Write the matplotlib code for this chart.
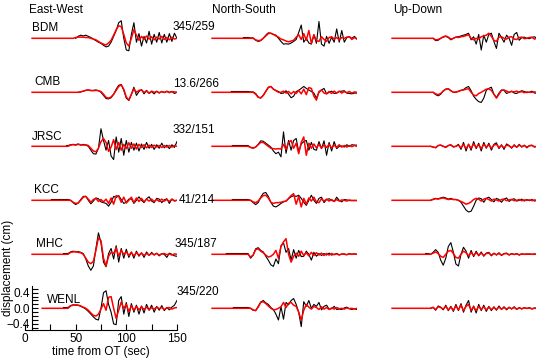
import numpy as np
import matplotlib
matplotlib.use("Agg")
import matplotlib.pyplot as plt
from matplotlib.ticker import MultipleLocator

plt.rcParams['font.family'] = ['Liberation Sans', 'DejaVu Sans']

# ---------------- data ----------------
stations = ["BDM", "CMB", "JRSC", "KCC", "MHC", "WENL"]
components = ["East-West", "North-South", "Up-Down"]
comp_keys = ["EW", "NS", "UD"]
dist_az = ["345/259", "13.6/266", "332/151", "41/214", "345/187", "345/220"]

t_grid = np.arange(45.0, 150.01, 2.5)

# time at which each drawn trace begins (flat before the signal)
syn_start = {"EW": [7, 7, 7, 7, 7, 17], "NS": [7] * 6, "UD": [7] * 6}
obs_start = {"EW": [49, 51, 41, 26, 38, 38],
             "NS": [38, 26, 27, 27, 21, 28],
             "UD": [47, 47, 45, 45, 40, 45]}

# displacement (cm), black = observed, red = synthetic
BDM_EW_syn = [0.00, 0.00, 0.02, 0.03, 0.03, 0.03, 0.02, 0.02, 0.00, -0.02,
              -0.04, -0.08, -0.12, -0.15, -0.17, -0.12, -0.05, 0.08, 0.22, 0.32,
              0.30, 0.10, -0.12, -0.20, 0.00, 0.22, 0.08, -0.05, 0.05, -0.03,
              0.06, -0.02, 0.04, -0.04, 0.03, -0.02, 0.05, -0.03, 0.02, -0.04,
              0.03, -0.02, 0.00]
BDM_EW_obs = [0.00, 0.00, 0.00, 0.05, 0.08, 0.06, 0.08, 0.05, 0.02, -0.02,
              -0.06, -0.10, -0.13, -0.18, -0.22, -0.20, -0.10, 0.05, 0.20, 0.40,
              0.45, 0.00, -0.30, -0.32, 0.10, 0.40, -0.10, 0.12, -0.20, 0.05,
              -0.12, 0.18, -0.15, 0.10, -0.10, 0.15, -0.12, 0.10, -0.10, 0.12,
              -0.08, 0.13, 0.00]
CMB_EW_syn = [0.00, 0.00, 0.00, 0.00, 0.01, 0.03, 0.05, 0.06, 0.05, 0.04,
              0.05, 0.04, 0.02, -0.05, -0.13, -0.15, -0.12, -0.05, 0.05, 0.15,
              0.19, 0.08, -0.12, -0.20, -0.05, 0.09, 0.00, 0.05, 0.06, 0.00,
              0.03, -0.02, 0.03, 0.00, 0.02, -0.01, 0.02, 0.00, 0.02, -0.01,
              0.02, 0.01, 0.00]
CMB_EW_obs = [0.00, 0.00, 0.00, 0.00, 0.01, 0.03, 0.05, 0.06, 0.04, 0.05,
              0.06, 0.04, 0.00, -0.08, -0.16, -0.17, -0.14, -0.05, 0.08, 0.18,
              0.20, 0.05, -0.15, -0.21, -0.05, 0.13, -0.08, 0.02, 0.07, -0.04,
              0.05, -0.03, 0.02, -0.04, 0.03, -0.02, 0.02, -0.01, 0.03, 0.00,
              0.02, -0.03, 0.00]
JRSC_EW_syn = [0.03, 0.04, 0.03, 0.05, 0.04, 0.03, 0.04, 0.02, -0.05, -0.12,
               -0.14, -0.05, 0.12, 0.20, 0.10, -0.13, -0.02, 0.17, -0.08, 0.10,
               -0.10, 0.05, -0.06, 0.09, -0.05, 0.06, -0.07, 0.05, -0.03, 0.04,
               -0.04, 0.03, -0.03, 0.03, -0.02, 0.02, -0.03, 0.02, -0.02, 0.02,
               -0.02, 0.02, 0.00]
JRSC_EW_obs = [0.04, 0.05, 0.04, 0.06, 0.03, 0.05, 0.03, 0.00, -0.10, -0.19,
               -0.20, -0.05, 0.45, 0.15, -0.10, 0.15, -0.25, -0.34, 0.24, -0.15,
               0.20, -0.23, 0.15, -0.15, 0.10, -0.10, 0.08, -0.12, 0.06, -0.08,
               0.10, -0.05, 0.05, -0.08, 0.04, -0.05, 0.08, -0.04, 0.03, -0.06,
               0.04, -0.03, 0.12]
KCC_EW_syn = [0.00, -0.05, -0.08, -0.07, 0.00, 0.08, 0.10, 0.03, -0.05, 0.02,
              0.05, -0.03, 0.02, -0.04, 0.03, -0.08, 0.06, -0.10, 0.12, 0.10,
              -0.05, 0.08, -0.07, 0.00, 0.08, -0.06, 0.06, -0.03, 0.05, -0.04,
              0.03, -0.02, 0.03, -0.03, 0.02, -0.03, 0.03, -0.02, 0.02, -0.03,
              0.03, -0.01, 0.00]
KCC_EW_obs = [0.00, -0.06, -0.11, -0.07, 0.02, 0.10, 0.10, 0.00, -0.09, -0.02,
              0.06, 0.04, -0.04, -0.06, -0.08, -0.15, -0.05, 0.10, 0.07, 0.12,
              0.02, -0.08, -0.05, 0.03, 0.04, -0.08, 0.00, 0.09, 0.00, -0.06,
              0.04, 0.09, -0.02, -0.06, 0.05, 0.03, -0.06, 0.01, 0.04, -0.08,
              0.03, -0.02, 0.00]
MHC_EW_syn = [0.05, 0.06, 0.07, 0.05, 0.04, 0.00, -0.10, -0.20, -0.24, -0.18,
              0.10, 0.42, 0.35, -0.10, -0.30, -0.05, 0.05, 0.02, 0.17, -0.05,
              0.10, 0.00, 0.06, -0.03, 0.05, -0.04, 0.04, -0.02, 0.03, -0.03,
              0.02, -0.02, 0.02, -0.01, 0.02, -0.02, 0.01, 0.02, -0.01, 0.01,
              -0.02, 0.01, 0.00]
MHC_EW_obs = [0.06, 0.08, 0.06, 0.07, 0.05, 0.02, -0.12, -0.30, -0.41, -0.30,
              0.15, 0.55, 0.30, -0.20, -0.32, 0.02, 0.15, -0.12, 0.22, -0.20,
              0.15, -0.10, 0.13, -0.08, 0.06, -0.10, 0.08, -0.05, 0.04, -0.08,
              0.06, -0.03, 0.05, -0.02, 0.03, -0.04, 0.02, 0.00, -0.08, 0.03,
              0.00, -0.04, -0.05]
WENL_EW_syn = [0.06, 0.08, 0.09, 0.08, 0.06, 0.03, 0.00, -0.05, -0.12, -0.18,
               -0.20, -0.15, -0.02, 0.12, -0.05, 0.28, 0.30, 0.00, -0.26, -0.05,
               0.16, 0.00, 0.10, -0.08, 0.06, -0.05, 0.05, -0.04, 0.04, -0.03,
               0.03, -0.04, 0.02, -0.02, 0.03, -0.01, 0.02, -0.03, 0.01, 0.02,
               -0.02, 0.01, 0.02]
WENL_EW_obs = [0.07, 0.09, 0.08, 0.08, 0.05, 0.02, -0.02, -0.08, -0.15, -0.22,
               -0.28, -0.30, 0.00, 0.40, 0.45, 0.10, -0.10, -0.40, -0.42, 0.20,
               0.30, -0.15, 0.15, -0.21, 0.12, -0.10, 0.08, -0.15, 0.06, -0.12,
               0.10, -0.05, 0.08, -0.10, 0.05, -0.05, 0.07, -0.06, 0.02, -0.04,
               0.03, 0.08, 0.20]

BDM_NS_syn = [0.00, 0.00, -0.04, -0.06, -0.05, 0.00, 0.06, 0.12, 0.13, 0.10,
              0.06, 0.03, -0.02, -0.04, -0.07, -0.09, -0.07, -0.05, 0.03, 0.09,
              -0.03, 0.12, -0.05, 0.20, -0.13, 0.09, -0.06, -0.08, 0.04, -0.03,
              -0.08, 0.02, 0.04, -0.02, 0.02, -0.04, 0.02, 0.00, 0.03, 0.04,
              -0.03, 0.02, -0.02]
BDM_NS_obs = [0.01, 0.01, -0.05, -0.08, -0.06, 0.00, 0.08, 0.14, 0.13, 0.10,
              0.08, 0.00, -0.08, -0.15, -0.14, -0.15, -0.12, -0.08, -0.03, 0.15,
              0.34, -0.10, 0.00, -0.12, -0.15, 0.09, -0.13, 0.43, -0.15, -0.20,
              0.05, -0.13, 0.03, -0.10, 0.24, -0.10, 0.20, -0.10, 0.02, 0.04,
              0.00, 0.05, -0.02]
CMB_NS_syn = [0.00, 0.00, -0.05, -0.13, -0.14, -0.08, 0.02, 0.12, 0.15, 0.08,
              0.04, 0.00, 0.00, 0.03, -0.02, 0.02, -0.04, 0.02, -0.03, 0.05,
              -0.04, 0.08, -0.06, 0.12, 0.10, -0.10, -0.20, 0.02, 0.06, -0.02,
              -0.04, 0.02, -0.03, 0.03, -0.02, 0.03, -0.02, 0.02, -0.01, 0.02,
              -0.02, 0.01, 0.00]
CMB_NS_obs = [0.01, 0.01, -0.03, -0.12, -0.15, -0.08, 0.03, 0.13, 0.15, 0.08,
              0.05, 0.02, -0.03, -0.02, 0.04, -0.05, -0.14, -0.10, 0.02, 0.05,
              0.10, 0.15, 0.10, 0.06, 0.02, -0.02, -0.15, 0.00, 0.06, 0.10,
              -0.04, 0.00, 0.03, -0.03, -0.02, 0.02, 0.03, 0.04, -0.02, -0.03,
              -0.04, -0.02, -0.02]
JRSC_NS_syn = [-0.03, -0.04, -0.02, 0.04, 0.10, 0.10, 0.05, 0.00, -0.05, -0.06,
               -0.07, -0.06, -0.07, 0.05, -0.08, 0.10, 0.15, -0.05, 0.08, -0.19,
               0.10, 0.24, -0.23, 0.08, -0.05, 0.06, -0.04, 0.05, -0.05, 0.04,
               -0.03, 0.05, -0.04, 0.03, -0.03, 0.04, -0.02, 0.02, -0.02, 0.02,
               -0.01, 0.02, 0.00]
JRSC_NS_obs = [-0.03, -0.05, -0.02, 0.05, 0.14, 0.13, 0.08, 0.03, -0.02, -0.12,
               -0.19, -0.15, -0.27, 0.37, -0.18, 0.15, -0.10, 0.15, 0.20, -0.14,
               0.06, 0.12, 0.15, -0.10, 0.10, -0.08, -0.10, 0.12, -0.06, 0.14,
               -0.23, 0.10, -0.12, 0.12, -0.06, 0.00, 0.01, -0.02, 0.04, 0.00,
               0.04, 0.03, 0.03]
KCC_NS_syn = [0.00, -0.04, -0.06, -0.02, 0.06, 0.12, 0.13, 0.06, -0.05, -0.08,
              -0.06, -0.06, -0.05, -0.03, -0.02, 0.05, 0.12, 0.17, -0.10, 0.10,
              -0.17, 0.05, -0.10, 0.06, -0.02, 0.08, -0.04, -0.06, 0.04, -0.02,
              0.03, -0.02, 0.02, -0.03, 0.02, -0.02, 0.01, 0.00, -0.02, 0.01,
              -0.01, 0.00, -0.01]
KCC_NS_obs = [0.00, -0.06, -0.11, -0.06, 0.08, 0.18, 0.20, 0.10, -0.05, -0.15,
              -0.17, -0.13, -0.08, -0.04, -0.02, 0.04, 0.09, 0.12, 0.10, 0.13,
              0.05, -0.05, -0.13, 0.00, 0.13, 0.00, -0.08, 0.05, 0.08, -0.06,
              0.02, 0.04, 0.00, -0.03, 0.08, 0.00, -0.04, 0.02, 0.01, -0.01,
              0.00, -0.01, 0.00]
MHC_NS_syn = [-0.07, -0.02, 0.12, 0.14, 0.08, 0.04, -0.02, -0.07, -0.05, 0.00,
              0.10, -0.10, 0.20, 0.32, 0.40, 0.00, -0.20, -0.05, 0.03, -0.05,
              0.08, -0.03, 0.04, -0.04, 0.05, -0.03, 0.04, -0.02, 0.03, -0.03,
              0.02, -0.02, 0.02, -0.01, 0.01, -0.02, 0.01, 0.00, -0.01, 0.01,
              0.00, 0.01, 0.00]
MHC_NS_obs = [-0.10, -0.02, 0.14, 0.17, 0.10, 0.06, -0.05, -0.15, -0.27, -0.31,
              -0.12, -0.24, 0.22, 0.29, 0.05, 0.15, -0.15, 0.12, -0.10, 0.10,
              -0.06, -0.05, 0.08, 0.00, -0.15, 0.05, -0.05, 0.02, -0.03, 0.02,
              -0.02, 0.03, -0.02, 0.00, 0.02, -0.01, 0.00, 0.01, -0.01, 0.02,
              0.00, 0.01, 0.00]
WENL_NS_syn = [0.00, -0.04, -0.06, 0.03, 0.15, 0.17, 0.12, 0.06, 0.00, -0.04,
               -0.03, 0.00, 0.04, 0.15, 0.02, 0.13, 0.15, 0.08, 0.05, -0.10,
               -0.30, -0.05, 0.10, 0.03, -0.02, 0.05, 0.02, -0.03, 0.04, -0.02,
               0.02, -0.03, 0.01, -0.02, 0.02, -0.01, 0.00, -0.02, 0.01, -0.01,
               0.00, -0.02, 0.00]
WENL_NS_obs = [0.00, -0.05, -0.06, 0.05, 0.16, 0.20, 0.14, 0.10, 0.02, -0.03,
               -0.15, -0.30, 0.04, -0.28, 0.15, 0.09, 0.20, 0.25, 0.10, -0.10,
               -0.47, 0.17, 0.05, 0.20, 0.00, 0.10, 0.05, 0.15, -0.04, 0.05,
               0.08, -0.02, -0.01, 0.05, -0.03, -0.02, -0.03, 0.01, 0.03, -0.01,
               -0.03, -0.01, -0.03]

BDM_UD_syn = [0.00, 0.00, -0.04, -0.03, 0.00, 0.04, 0.06, 0.03, -0.02, 0.00,
              0.03, 0.02, 0.04, 0.05, 0.07, 0.09, 0.00, -0.04, 0.00, -0.02,
              0.04, 0.06, 0.08, 0.13, 0.05, -0.05, -0.08, 0.03, 0.04, 0.00,
              -0.02, 0.03, 0.04, -0.02, -0.03, 0.02, 0.03, -0.01, 0.00, 0.02,
              0.03, -0.02, 0.00]
BDM_UD_obs = [0.00, 0.00, -0.06, -0.05, 0.00, 0.03, 0.05, 0.02, -0.04, 0.00,
              0.03, 0.04, 0.06, 0.08, 0.10, 0.13, -0.04, 0.04, -0.15, 0.10,
              -0.30, 0.08, -0.10, 0.10, 0.13, -0.08, -0.26, 0.13, 0.02, -0.10,
              0.08, 0.00, -0.18, 0.10, 0.15, -0.05, 0.02, 0.03, 0.00, -0.01,
              0.02, 0.04, 0.00]
CMB_UD_syn = [0.00, 0.00, -0.04, -0.06, -0.03, 0.03, 0.08, 0.09, 0.04, 0.00,
              0.01, 0.02, 0.05, 0.06, 0.08, 0.09, 0.00, -0.07, -0.09, -0.03,
              0.00, 0.04, 0.08, 0.09, 0.05, -0.05, -0.15, -0.05, 0.05, 0.06,
              0.03, 0.00, 0.02, 0.01, 0.03, 0.00, 0.02, -0.01, 0.01, 0.00,
              0.00, 0.01, 0.00]
CMB_UD_obs = [0.00, 0.00, -0.06, -0.09, -0.05, 0.04, 0.08, 0.09, 0.04, 0.00,
              0.00, 0.03, 0.05, 0.07, 0.12, 0.15, 0.04, -0.10, -0.18, -0.24,
              -0.26, -0.15, 0.05, 0.10, 0.13, -0.05, -0.13, -0.02, 0.06, 0.05,
              -0.03, 0.00, 0.03, -0.02, -0.03, 0.01, 0.04, 0.02, -0.01, 0.00,
              0.03, -0.02, -0.02]
JRSC_UD_syn = [0.00, -0.02, -0.03, 0.02, 0.03, 0.00, -0.02, 0.02, 0.03, -0.01,
               0.00, 0.03, -0.04, 0.05, -0.06, 0.04, -0.05, 0.06, -0.03, 0.04,
               -0.06, 0.05, -0.02, 0.04, -0.05, 0.03, 0.05, -0.03, 0.02, -0.04,
               0.03, 0.01, -0.03, 0.02, -0.02, 0.03, -0.01, 0.02, -0.02, 0.01,
               0.02, -0.01, 0.00]
JRSC_UD_obs = [0.00, -0.02, -0.04, 0.02, 0.03, 0.00, -0.03, 0.02, 0.04, -0.02,
               0.00, 0.05, -0.08, 0.10, -0.12, 0.06, -0.10, 0.12, -0.06, 0.08,
               -0.12, 0.10, -0.05, 0.08, -0.10, 0.05, 0.09, -0.06, 0.04, -0.08,
               0.06, 0.02, -0.05, 0.04, -0.03, 0.05, -0.02, 0.03, -0.04, 0.02,
               0.03, -0.02, 0.00]
KCC_UD_syn = [0.00, 0.02, 0.04, 0.03, 0.05, 0.06, 0.04, 0.02, 0.03, 0.02,
              0.02, 0.00, -0.03, -0.06, -0.10, -0.08, -0.04, 0.02, 0.05, 0.03,
              -0.02, 0.03, 0.05, 0.02, -0.02, 0.03, 0.01, -0.02, 0.02, 0.03,
              -0.01, 0.01, 0.02, -0.01, 0.00, 0.02, -0.01, 0.01, 0.00, 0.01,
              -0.01, 0.01, 0.00]
KCC_UD_obs = [0.00, 0.03, 0.05, 0.04, 0.06, 0.08, 0.06, 0.03, 0.05, 0.02,
              0.02, 0.00, -0.05, -0.15, -0.25, -0.30, -0.28, -0.15, 0.00, 0.06,
              0.04, -0.05, 0.05, 0.08, 0.02, -0.04, 0.05, 0.02, -0.05, 0.03,
              0.06, -0.03, 0.02, 0.04, -0.02, 0.00, 0.03, -0.02, 0.02, -0.01,
              0.02, -0.02, 0.00]
MHC_UD_syn = [0.00, 0.03, 0.06, 0.02, -0.05, -0.08, 0.00, 0.08, 0.10, 0.02,
              -0.08, -0.10, 0.00, 0.08, 0.04, -0.04, 0.05, -0.03, 0.04, -0.02,
              0.03, -0.03, 0.02, 0.03, -0.02, 0.02, -0.01, 0.02, -0.02, 0.01,
              0.02, -0.01, 0.01, 0.00, 0.01, -0.01, 0.01, 0.00, 0.00, 0.01,
              0.00, 0.00, 0.00]
MHC_UD_obs = [0.00, 0.05, 0.12, 0.05, -0.15, -0.28, -0.10, 0.20, 0.30, 0.05,
              -0.25, -0.30, 0.00, 0.18, 0.08, -0.10, 0.10, -0.06, 0.08, -0.04,
              0.06, -0.05, 0.03, 0.05, -0.04, 0.03, -0.02, 0.04, -0.03, 0.02,
              0.03, -0.02, 0.02, -0.01, 0.02, -0.02, 0.01, 0.00, 0.01, 0.00,
              0.00, 0.01, 0.00]
WENL_UD_syn = [0.00, 0.02, -0.03, 0.04, 0.02, -0.02, 0.05, -0.04, 0.03, -0.05,
               0.06, -0.04, 0.08, -0.06, 0.05, 0.10, -0.05, 0.04, -0.06, 0.05,
               -0.03, 0.04, -0.04, 0.03, -0.03, 0.02, -0.03, 0.03, -0.02, 0.02,
               -0.02, 0.02, -0.01, 0.02, -0.02, 0.01, -0.01, 0.01, 0.00, 0.01,
               -0.01, 0.00, 0.00]
WENL_UD_obs = [0.00, 0.03, -0.05, 0.06, 0.03, -0.04, 0.08, -0.06, 0.05, -0.08,
               0.10, -0.06, 0.12, -0.10, 0.08, 0.20, -0.10, 0.06, -0.12, 0.10,
               -0.06, 0.08, -0.08, 0.05, -0.06, 0.04, -0.05, 0.06, -0.03, 0.04,
               -0.04, 0.03, -0.02, 0.04, -0.03, 0.02, -0.02, 0.02, -0.01, 0.02,
               -0.02, 0.01, 0.00]

# ---------------- layout ----------------
W, H = 536, 359
PX_PER_S = 1.013
PX_PER_CM = 39.0
YLIM = 0.56
col_x0 = [25, 205, 385]
row_base = [38.3, 92.3, 146.3, 200.3, 254.3, 308.3]
name_pos = [(32, 30.7), (34, 85), (32, 140), (34, 193.3), (36, 247.3), (46.5, 303.3)]
da_pos = [(172.7, 30), (172.7, 86.7), (173, 133.3), (179, 203.3), (175, 246.7), (176.7, 295)]
FS = 8.5

fig = plt.figure(figsize=(W / 100, H / 100), dpi=100)


def ftext(x, y, s, **kw):
    fig.text(x / W, 1 - y / H, s, fontsize=FS, **kw)


g = globals()
for r, st in enumerate(stations):
    for c, ck in enumerate(comp_keys):
        w = 150 * PX_PER_S
        h = 2 * YLIM * PX_PER_CM
        yb = row_base[r]
        ax = fig.add_axes([col_x0[c] / W, 1 - (yb + h / 2) / H, w / W, h / H])
        ax.set_xlim(0, 150)
        ax.set_ylim(-YLIM, YLIM)
        ax.patch.set_alpha(0)

        syn = np.array(g[f"{st}_{ck}_syn"])
        obs = np.array(g[f"{st}_{ck}_obs"])
        s0 = syn_start[ck][r]
        o0 = obs_start[ck][r]
        ts = np.concatenate([[s0, 42.5], t_grid])
        ys = np.concatenate([[0.0, 0.0], syn])
        if o0 < 42.5:
            to = np.concatenate([[o0, 42.5], t_grid])
            yo = np.concatenate([[0.02, 0.02], obs])
        else:
            m = t_grid >= o0
            to = t_grid[m]
            yo = obs[m]
        ax.plot(to, yo, color="black", lw=0.8, zorder=2)
        ax.plot(ts, ys, color="#ff0000", lw=1.1, zorder=3)

        if r == 5 and c == 0:
            ax.spines["top"].set_visible(False)
            ax.spines["right"].set_visible(False)
            ax.spines["left"].set_position(("data", 7))
            for s in ("left", "bottom"):
                ax.spines[s].set_linewidth(0.8)
            ax.xaxis.set_major_locator(MultipleLocator(50))
            ax.xaxis.set_minor_locator(MultipleLocator(25))
            ax.yaxis.set_major_locator(MultipleLocator(0.4))
            ax.yaxis.set_minor_locator(MultipleLocator(0.1))
            ax.tick_params(which="both", direction="in", length=4, width=0.8,
                           labelsize=FS, pad=2)
            ax.tick_params(axis="y", which="major", pad=1.5)
        else:
            ax.axis("off")

# column titles
for c, comp in enumerate(components):
    ftext([29, 212, 393][c], 13, comp, va="baseline")
# station names and distance/azimuth
for r, st in enumerate(stations):
    ftext(name_pos[r][0], name_pos[r][1], st, va="baseline")
    ftext(da_pos[r][0], da_pos[r][1], dist_az[r], va="baseline")

ftext(101, 355, "time from OT (sec)", ha="center", va="baseline")
ftext(8.3, 268, "displacement (cm)", ha="center", va="center", rotation=90)

fig.savefig("out.png", dpi=100)
